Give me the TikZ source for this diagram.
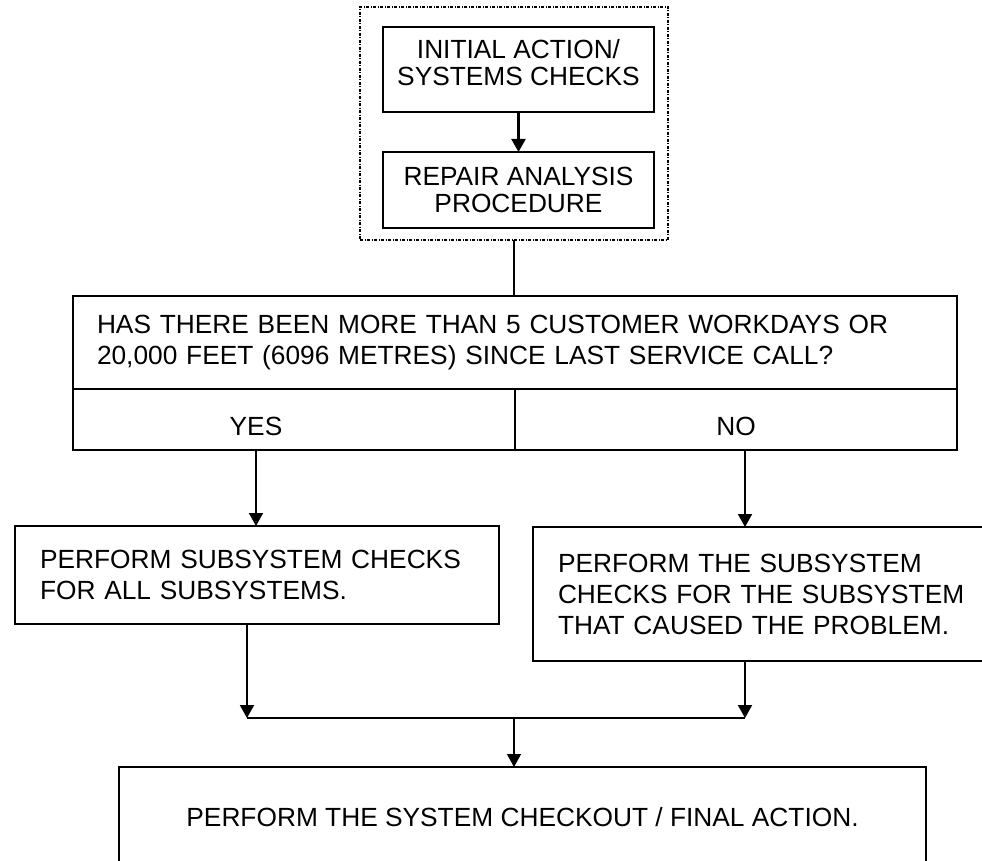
\documentclass[tikz,border=0pt]{standalone}
\usepackage{fontspec}
\setmainfont{Liberation Sans}
\usetikzlibrary{arrows.meta}

\tikzset{
  box/.style={draw, line width=2.7pt, rectangle, inner sep=0pt, outer sep=0pt},
  flow/.style={line width=1.9pt, -{Triangle[width=14pt,length=13pt]}},
  link/.style={line width=1.9pt},
}

\begin{document}
\begin{tikzpicture}[x=1pt, y=-1pt, font=\fontsize{26.3}{31}\selectfont]
    \useasboundingbox (0,0) rectangle (982,861);

    % Dotted frame round the first two steps
    \node[draw, line width=1.4pt, dash pattern=on 3pt off 1.5pt on 1pt off 1.5pt,
          minimum width=308pt, minimum height=233pt, outer sep=0pt] (frame) at (514,123.5) {};
    \node[box, minimum width=271pt, minimum height=85pt, align=center, text depth=15pt,
          font=\fontsize{26.3}{27}\selectfont] (init) at (518.5,69.5) {INITIAL ACTION/\\SYSTEMS CHECKS};
    \node[box, minimum width=271pt, minimum height=76pt, align=center,
          font=\fontsize{26.3}{27}\selectfont] (repair) at (518.5,190) {REPAIR ANALYSIS\\PROCEDURE};
    \draw[flow, line width=2.2pt] (init) -- (repair);

    % Question
    \node[box, anchor=north west, minimum width=884pt, minimum height=93pt,
          text width=836pt, inner xsep=24pt, align=left] (q) at (73,296)
          {HAS THERE BEEN MORE THAN 5 CUSTOMER WORKDAYS OR\\20,000 FEET (6096 METRES) SINCE LAST SERVICE CALL?};
    \node[box, anchor=north west, minimum width=442pt, minimum height=61pt] (yes) at (q.south west) {};
    \node[box, anchor=north east, minimum width=442pt, minimum height=61pt] (no) at (q.south east) {};
    \node (yeslbl) at (256,426) {YES};
    \node (nolbl) at (736,426) {NO};
    \draw[link] (frame.south) -- (frame.south |- q.north);

    % Subsystem checks
    \node[box, anchor=north west, minimum width=484pt, minimum height=98pt,
          text width=434pt, inner xsep=25pt, align=left] (all) at (15,526)
          {PERFORM SUBSYSTEM CHECKS\\FOR ALL SUBSYSTEMS.};
    \node[box, anchor=north west, minimum width=470pt, minimum height=134pt,
          text width=420pt, inner xsep=25pt, align=left] (one) at (533,527)
          {PERFORM THE SUBSYSTEM\\CHECKS FOR THE SUBSYSTEM\\THAT CAUSED THE PROBLEM.};

    % Join
    \coordinate (jl) at (247,718);
    \coordinate (jr) at (745,718);
    \coordinate (jm) at (514,718);

    % Final action
    \node[box, anchor=north, minimum width=807pt, minimum height=100pt] (final) at (522.5,767)
          {PERFORM THE SYSTEM CHECKOUT / FINAL ACTION.};

    \draw[flow] (yeslbl |- yes.south) -- (yeslbl |- all.north);
    \draw[flow] (jr |- no.south) -- (jr |- one.north);
    \draw[flow] (jl |- all.south) -- (jl);
    \draw[flow] (jr |- one.south) -- (jr);
    \draw[link] (jl) -- (jr);
    \draw[flow, line width=1.2pt] (jm) -- (jm |- final.north);
\end{tikzpicture}
\end{document}
